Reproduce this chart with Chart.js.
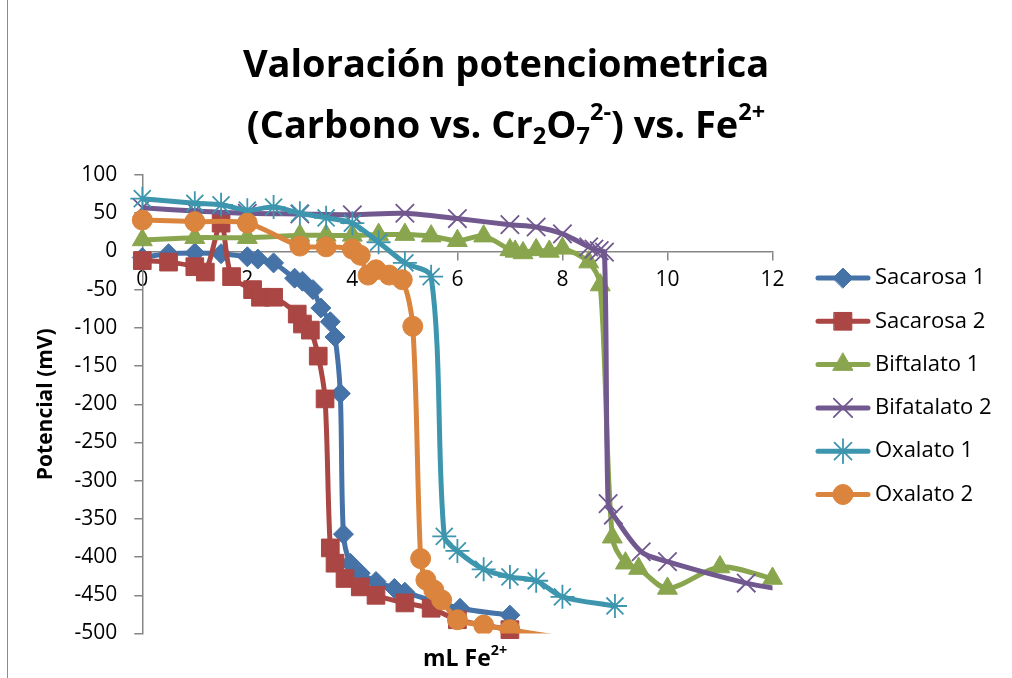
<!DOCTYPE html>
<html>
<head>
<meta charset="utf-8">
<script src="https://cdn.jsdelivr.net/npm/chart.js@4.4.0/dist/chart.umd.min.js"></script>
<style>
  html, body { margin: 0; padding: 0; background: #fff; }
  #wrap { position: relative; width: 1012px; height: 678px; overflow: hidden; font-family: 'Open Sans', sans-serif; color: #000; }
  #chart { position: absolute; left: 0; top: 0; }
  #frame { position: absolute; left: 7px; top: 0; height: 678px; border-left: 1.5px solid #8c8c8c; }
  .title { position: absolute; left: 0; width: 1012px; text-align: center; font-weight: 700; font-size: 38px; line-height: 1; white-space: nowrap; }
  #t1 { top: 43px; }
  #t2 { top: 104px; }
  sub, sup { font-size: 0.62em; line-height: 0; }
  sub { vertical-align: -0.25em; }
  sup { vertical-align: 0.75em; }
  #xtitle { position: absolute; left: 365px; width: 200px; top: 646px; text-align: center; font-weight: 700; font-size: 23px; line-height: 1; }
</style>
</head>
<body>
<div id="wrap">
  <canvas id="chart" width="1012" height="678"></canvas>
  <div id="frame"></div>
  <div class="title" id="t1">Valoración potenciometrica</div>
  <div class="title" id="t2">(Carbono vs. Cr<sub>2</sub>O<sub>7</sub><sup>2-</sup>) vs. Fe<sup>2+</sup></div>
  <div id="xtitle">mL Fe<sup>2+</sup></div>
</div>
<script>
// valores (mL de Fe2+ vs potencial en mV)
const seriesNames = ['Sacarosa 1', 'Sacarosa 2', 'Biftalato 1', 'Bifatalato 2', 'Oxalato 1', 'Oxalato 2'];

const sacarosa1X = [0, 0.5, 1, 1.5, 2, 2.2, 2.5, 2.9, 3.05, 3.25, 3.4, 3.58, 3.67, 3.77, 3.83, 3.96, 4.15, 4.45, 4.8, 5.0, 6.05, 7.0];
const sacarosa1Y = [-8, -3, -2, -3, -7, -10, -15, -35, -39, -50, -74, -92, -112, -186, -370, -408, -421, -432, -441, -446, -467, -476];

const sacarosa2X = [0, 0.5, 1, 1.2, 1.5, 1.7, 2.1, 2.25, 2.5, 2.95, 3.05, 3.2, 3.35, 3.48, 3.58, 3.67, 3.86, 4.15, 4.45, 5.0, 5.5, 6.0, 7.0];
const sacarosa2Y = [-12, -14, -20, -27, 37, -33, -50, -60, -60, -82, -95, -103, -137, -193, -388, -408, -428, -439, -450, -460, -467, -482, -495];

const biftalato1X = [0, 1, 2, 3, 3.5, 4, 4.5, 5, 5.5, 6, 6.5, 7, 7.1, 7.25, 7.5, 7.75, 8, 8.5, 8.72, 8.95, 9.2, 9.45, 10, 11, 12];
const biftalato1Y = [15, 18, 18, 21, 21, 21, 22, 22, 20, 14, 20, 2, 0, -2, 2, 0, 4, -14, -44, -374, -408, -415, -441, -413, -428];

const bifatalato2X = [0, 1, 2, 3, 4, 5, 6, 7, 7.5, 8, 8.5, 8.6, 8.7, 8.8, 8.87, 8.97, 9.5, 10, 11.5, 12.5];
const bifatalato2Y = [57, 53, 50, 49, 48, 50, 43, 35, 32, 23, 6, 3, 1, -1, -330, -345, -393, -406, -434, -446];

const oxalato1X = [0, 1, 1.5, 2, 2.5, 3, 3.5, 4, 4.5, 5, 5.5, 5.75, 6, 6.5, 7, 7.5, 8, 9];
const oxalato1Y = [69, 63, 61, 54, 58, 50, 44, 37, 12, -15, -33, -373, -392, -416, -426, -431, -452, -464];

const oxalato2X = [0, 1, 2, 3, 3.5, 4, 4.15, 4.3, 4.45, 4.7, 4.95, 5.15, 5.3, 5.4, 5.55, 5.7, 6, 6.5, 7, 8];
const oxalato2Y = [41, 39, 37, 7, 6, 3, -5, -31, -24, -31, -37, -98, -402, -430, -443, -456, -482, -489, -495, -506];

const xTicks = { min: 0, max: 12, step: 2 };
const yTicks = { min: -500, max: 100, step: 50 };

const colors = ['#4572A7', '#AA4643', '#89A54E', '#71588F', '#3D96AE', '#DB843D'];
const markers = [
    { style: 'rectRot', radius: 10, border: 1 },
    { style: 'rect', radius: 12.5, border: 1 },
    { style: 'triangle', radius: 11.5, border: 1 },
    { style: 'crossRot', radius: 13, border: 1.8 },
    { style: 'star', radius: 12, border: 1.8 },
    { style: 'circle', radius: 10, border: 1 }
];

const allX = [sacarosa1X, sacarosa2X, biftalato1X, bifatalato2X, oxalato1X, oxalato2X];
const allY = [sacarosa1Y, sacarosa2Y, biftalato1Y, bifatalato2Y, oxalato1Y, oxalato2Y];

const FONT = "'Open Sans', sans-serif";
const AXIS = '#868686';

const datasets = seriesNames.map((name, i) => {
    const xs = allX[i], ys = allY[i];
    const pts = xs.map((x, k) => ({ x: x, y: ys[k] }));
    // puntos fuera de la escala: la linea sigue pero sin marcador
    const radii = pts.map(p => (p.x > xTicks.max || p.y < yTicks.min) ? 0 : markers[i].radius);
    return {
        label: name,
        data: pts,
        borderColor: colors[i],
        backgroundColor: colors[i],
        borderWidth: 5,
        tension: 0.3,
        pointStyle: markers[i].style,
        pointRadius: radii,
        pointBackgroundColor: colors[i],
        pointBorderColor: colors[i],
        pointBorderWidth: markers[i].border,
        order: seriesNames.length - i,
        clip: { left: 20, top: 20, right: i === 3 ? 0 : 20, bottom: i === 5 ? 0 : 20 }
    };
});

// leyenda a la derecha estilo Excel (linea + marcador)
const sideLegend = {
    id: 'sideLegend',
    afterDraw(chart) {
        const ctx = chart.ctx;
        seriesNames.forEach((name, i) => {
            const y = 278 + i * 43.3;
            ctx.save();
            ctx.strokeStyle = colors[i];
            ctx.lineWidth = 5;
            ctx.lineCap = 'round';
            ctx.beginPath();
            ctx.moveTo(818, y);
            ctx.lineTo(868, y);
            ctx.stroke();
            ctx.fillStyle = colors[i];
            ctx.lineWidth = markers[i].border;
            Chart.helpers.drawPoint(ctx, {
                pointStyle: markers[i].style,
                radius: markers[i].radius,
                borderWidth: markers[i].border,
                rotation: 0
            }, 843, y);
            ctx.fillStyle = '#000';
            ctx.font = '22px ' + FONT;
            ctx.textBaseline = 'middle';
            ctx.textAlign = 'left';
            ctx.fillText(name, 875, y);
            ctx.restore();
        });
    }
};

new Chart(document.getElementById('chart'), {
    type: 'line',
    data: { datasets: datasets },
    plugins: [sideLegend],
    options: {
        responsive: false,
        animation: false,
        devicePixelRatio: 1,
        layout: { padding: { left: 0, right: 239.5, top: 175, bottom: 44.5 } },
        plugins: {
            legend: { display: false },
            tooltip: { enabled: false }
        },
        scales: {
            x: {
                type: 'linear',
                position: { y: 0 },
                min: xTicks.min,
                max: xTicks.max,
                ticks: { stepSize: xTicks.step, color: '#000', font: { family: FONT, size: 21 }, padding: 8, maxRotation: 0 },
                grid: { drawOnChartArea: false, tickLength: 8, color: AXIS, lineWidth: 1.5 },
                border: { color: AXIS, width: 1.5 }
            },
            y: {
                type: 'linear',
                min: yTicks.min,
                max: yTicks.max,
                ticks: { stepSize: yTicks.step, color: '#000', font: { family: FONT, size: 21 }, padding: 17 },
                grid: { drawOnChartArea: false, tickLength: 8, color: AXIS, lineWidth: 1.5 },
                border: { color: AXIS, width: 1.5 },
                title: {
                    display: true,
                    text: 'Potencial (mV)',
                    color: '#000',
                    font: { family: FONT, size: 21, weight: 'bold' },
                    padding: { top: 33, bottom: 0 }
                },
                afterFit(scale) { scale.width = 142.3; }
            }
        }
    }
});
</script>
</body>
</html>
